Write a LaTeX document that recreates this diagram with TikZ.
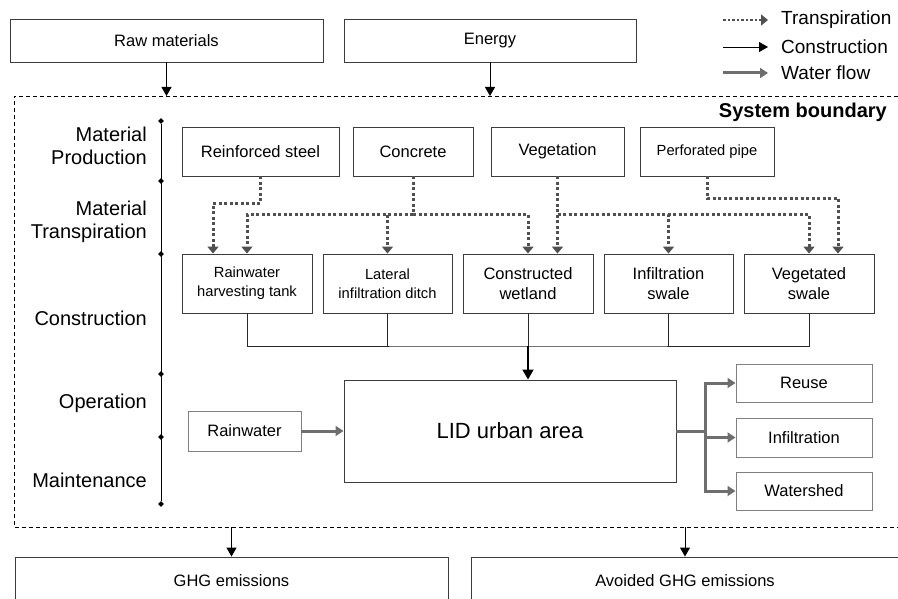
\documentclass[tikz,border=0pt]{standalone}
\usepackage{fontspec}
\setmainfont{Liberation Sans}
\usepackage{tikz}
\usetikzlibrary{arrows.meta, positioning, shapes.geometric}
\definecolor{mydark}{RGB}{40,40,40}
\definecolor{myborder}{RGB}{60,60,60}
\definecolor{mygray}{RGB}{128,128,128}
\definecolor{mywater}{RGB}{110,110,110}
\definecolor{mydot}{RGB}{80,80,80}
\newcommand{\boxfont}{\fontsize{16.5}{20}\selectfont}
\newcommand{\smallboxfont}{\fontsize{14.7}{19}\selectfont}
\newcommand{\phasefont}{\fontsize{20}{23}\selectfont}
\newcommand{\legendfont}{\fontsize{19}{22}\selectfont}
\newcommand{\lidfont}{\fontsize{22}{26}\selectfont}
\tikzset{
  block/.style={rectangle, draw=myborder, line width=0.9pt,
    align=center, inner sep=1pt, font=\boxfont},
  greyblock/.style={block, draw=mygray},
  phase/.style={anchor=east, align=right, inner sep=0pt, font=\phasefont},
  stagedot/.style={diamond, fill=black, inner sep=0pt, minimum size=6pt},
  arrow/.style={-{Triangle[width=10pt,length=9pt]}, line width=0.9pt, color=black},
  bigarrow/.style={-{Triangle[width=11pt,length=10pt]}, line width=1.8pt, color=black},
  line/.style={line width=0.9pt, color=mydark},
  transp/.style={-{Triangle[width=11pt,length=7pt]}, line width=3pt,
    color=mydot, dash pattern=on 3pt off 2.5pt},
  water/.style={-{Triangle[width=10pt,length=8pt]}, line width=3pt, color=mywater},
  waterline/.style={line width=3pt, color=mywater},
  legtext/.style={anchor=west, inner sep=0pt, font=\legendfont}
}
\begin{document}
\begin{tikzpicture}[x=1pt, y=-1pt]
  \useasboundingbox (0,0) rectangle (898,599);
  \clip (0,0) rectangle (898,599);

  % Inputs
  \node[block, minimum width=313, minimum height=43] (raw) at (166.5, 40.5) {Raw materials};
  \node[block, minimum width=292, minimum height=43] (energy) at (490, 40.5) {Energy};

  % Legend
  \coordinate (lt) at (723, 20);
  \coordinate (lc) at (723, 47);
  \coordinate (lw) at (723, 73);
  \node[legtext] (legT) at (781, 20) {Transpiration};
  \node[legtext] (legC) at (781, 47) {Construction};
  \node[legtext] (legW) at (781, 73) {Water flow};
  \draw[transp, line width=2.5pt, dash pattern=on 2.5pt off 2pt] (lt) -- ([xshift=-13]legT.west);
  \draw[arrow] (lc) -- ([xshift=-13]legC.west);
  \draw[water] (lw) -- ([xshift=-13]legW.west);

  % System boundary
  \coordinate (btop) at (14, 96);
  \coordinate (bbot) at (14, 527);
  \draw[line width=0.8pt, dash pattern=on 4pt off 3pt] (898, 96) -- (btop) -- (bbot) -- (898, 527);
  \node[anchor=east, inner sep=0pt, font=\phasefont\bfseries] (sysb) at (887, 112) {System boundary};

  \draw[arrow] (raw.south) -- (raw.south |- btop);
  \draw[arrow] (energy.south) -- (energy.south |- btop);

  % Life cycle stages
  \node[stagedot] (d1) at (161, 121) {};
  \node[stagedot] (d2) at (161, 181) {};
  \node[stagedot] (d3) at (161, 254) {};
  \node[stagedot] (d4) at (161, 374) {};
  \node[stagedot] (d5) at (161, 437) {};
  \node[stagedot] (d6) at (161, 504) {};
  \draw[line, color=black] (d1) -- (d6);

  \node[phase] (ph1) at (147, 146) {Material\\Production};
  \node[phase] (ph2) at (147, 222) {Material\\Transpiration};
  \node[phase] (ph3) at (147, 318) {Construction};
  \node[phase] (ph4) at (147, 403) {Operation};
  \node[phase] (ph5) at (147, 480) {Maintenance};

  % Materials
  \node[block, minimum width=157, minimum height=49] (steel) at (260.5, 151.5) {Reinforced steel};
  \node[block, minimum width=120, minimum height=49] (concrete) at (413, 151.5) {Concrete};
  \node[block, minimum width=133, minimum height=49] (veg) at (557.5, 151.5) {Vegetation};
  \node[block, minimum width=134, minimum height=49, font=\smallboxfont] (pipe) at (707, 151.5) {Perforated pipe};

  % LID facilities
  \node[block, minimum width=130, minimum height=59, font=\smallboxfont] (tank) at (247, 283.5) {Rainwater\\harvesting tank};
  \node[block, minimum width=129, minimum height=59, font=\smallboxfont] (ditch) at (387.5, 283.5) {Lateral\\infiltration ditch};
  \node[block, minimum width=130, minimum height=59] (wetland) at (528, 283.5) {Constructed\\wetland};
  \node[block, minimum width=129, minimum height=59] (swale) at (668.5, 283.5) {Infiltration\\swale};
  \node[block, minimum width=130, minimum height=59] (vswale) at (809, 283.5) {Vegetated\\swale};

  % Transpiration
  \coordinate (cj) at (413, 215);
  \coordinate (vj) at (557.5, 215);
  \draw[transp] (steel.south) -- ++(0, 27) -| ([xshift=-34]tank.north);
  \draw[transp, -] (concrete.south) -- (cj);
  \draw[transp] (cj) -| (tank.north);
  \draw[transp] (cj) -| (wetland.north);
  \draw[transp] (cj -| ditch.north) -- (ditch.north);
  \draw[transp] (veg.south) -- ([xshift=29.5]wetland.north);
  \draw[transp] (vj) -| (swale.north);
  \draw[transp] (vj) -| (vswale.north);
  \draw[transp] (pipe.south) -- ++(0, 22) -| ([xshift=29]vswale.north);

  % Construction
  \coordinate (bus) at (528, 346);
  \draw[line] (tank.south) |- (bus) -| (vswale.south);
  \draw[line] (ditch.south) -- (ditch.south |- bus);
  \draw[line] (wetland.south) -- (bus);
  \draw[line] (swale.south) -- (swale.south |- bus);

  % Operation
  \node[block, minimum width=332, minimum height=102, font=\lidfont] (lid) at (510, 431) {LID urban area};
  \node[greyblock, minimum width=113, minimum height=40] (rain) at (244.5, 431) {Rainwater};
  \draw[bigarrow] (bus) -- (bus |- lid.north);
  \draw[water] (rain.east) -- (lid.west);

  \node[greyblock, minimum width=136, minimum height=38] (reuse) at (804, 383) {Reuse};
  \node[greyblock, minimum width=136, minimum height=39] (infil) at (804, 437.5) {Infiltration};
  \node[greyblock, minimum width=136, minimum height=38] (wshed) at (804, 491) {Watershed};
  \coordinate (wsplit) at (705, 431);
  \draw[waterline] (lid.east) -- (wsplit);
  \draw[water] (wsplit) |- (reuse.west);
  \draw[water] (wsplit) |- (infil.west);
  \draw[water] (wsplit) |- (wshed.west);

  % Outputs
  \node[block, minimum width=433, minimum height=48] (ghg) at (231.5, 581) {GHG emissions};
  \node[block, minimum width=428, minimum height=48] (avoid) at (685, 581) {Avoided GHG emissions};
  \draw[arrow] (ghg.north |- bbot) -- (ghg.north);
  \draw[arrow] (avoid.north |- bbot) -- (avoid.north);
\end{tikzpicture}
\end{document}
